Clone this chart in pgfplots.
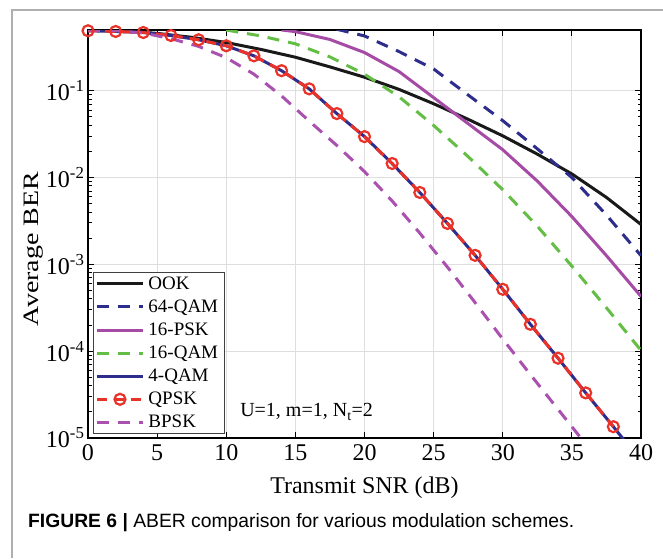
\documentclass[border=0pt]{standalone}
\usepackage{fontspec}
\setmainfont{Liberation Serif}
\newfontfamily\ylabfont{Liberation Serif}[FakeStretch=1.27]
\newfontfamily\capfont{Liberation Sans}
\usepackage{pgfplots}
\pgfplotsset{compat=1.18}

\definecolor{ookc}{RGB}{25,25,25}
\definecolor{navyq}{RGB}{45,45,140}
\definecolor{pskc}{RGB}{165,75,165}
\definecolor{qamg}{RGB}{100,190,70}
\definecolor{qpskred}{RGB}{235,50,40}
\definecolor{bpskc}{RGB}{170,80,175}
\definecolor{gridc}{RGB}{222,222,222}
\definecolor{framec}{RGB}{175,175,175}

\begin{document}
\begin{tikzpicture}[x=1pt,y=1pt]
\useasboundingbox (0,0) rectangle (663,558);
\draw[framec, line width=2pt] (12,0) -- (12,548) -- (663,548);
\begin{axis}[
  at={(88pt,120pt)}, anchor=south west,
  scale only axis, width=553pt, height=408pt,
  ymode=log, xmin=0, xmax=40, ymin=1e-5, ymax=0.5,
  xtick={0,5,...,40},
  ytick={1e-5,1e-4,1e-3,1e-2,1e-1},
  yticklabels={10\textsuperscript{-5},10\textsuperscript{-4},10\textsuperscript{-3},10\textsuperscript{-2},10\textsuperscript{-1}},
  /pgf/number format/assume math mode=true,
  tick label style={font=\fontsize{24}{26}\selectfont, black},
  xticklabel style={yshift=-3pt},
  grid=major, major grid style={gridc, line width=1pt},
  tick align=inside, tickpos=both,
  major tick length=6pt, minor tick length=3.5pt,
  every tick/.style={black, line width=0.9pt},
  axis line style={black, line width=1.2pt},
  xlabel={Transmit SNR (dB)},
  ylabel={Average BER},
  xlabel style={font=\fontsize{24}{26}\selectfont, at={(axis description cs:0.5,-0.1225)}, anchor=center},
  ylabel style={font=\ylabfont\fontsize{22}{24}\selectfont, at={(axis description cs:-0.0975,0.463)}, anchor=center},
  legend style={at={(rel axis cs:0.009,0.01)}, anchor=south west,
    font=\fontsize{19}{21}\selectfont, draw=black!75, line width=1pt,
    fill=white, inner sep=2pt, row sep=5pt,
    nodes={inner xsep=4pt}},
  legend cell align=left,
  legend image code/.code={\draw[mark repeat=2,mark phase=2] plot coordinates {(0pt,0pt) (23pt,0pt) (46pt,0pt)};},
]
% OOK
\addplot[ookc, line width=3pt] coordinates {
 (0,0.50) (2.5,0.49) (5,0.457) (7.5,0.412) (10,0.359) (12.5,0.299) (15,0.243)
 (17.5,0.188) (20,0.143) (22.5,0.1035) (25,0.0708) (27.5,0.0468) (30,0.0302)
 (32.5,0.0186) (35,0.011) (37.5,5.9e-3) (40,2.88e-3)};
\addlegendentry{OOK}
% 64-QAM
\addplot[navyq, line width=3pt, dash pattern=on 12pt off 9pt] coordinates {
 (18,0.51) (20,0.427) (22.5,0.282) (25,0.178) (27.5,0.0891) (30,0.0452)
 (32.5,0.0214) (35,0.01) (37.5,3.7e-3) (40,1.26e-3)};
\addlegendentry{64-QAM}
% 16-PSK
\addplot[pskc, line width=3pt] coordinates {
 (14,0.50) (15,0.479) (17.5,0.389) (20,0.275) (22.5,0.166) (25,0.0832)
 (27.5,0.0417) (30,0.0209) (32.5,9.1e-3) (35,3.55e-3) (37.5,1.26e-3) (40,4.27e-4)};
\addlegendentry{16-PSK}
% 16-QAM
\addplot[qamg, line width=3pt, dash pattern=on 12pt off 9pt] coordinates {
 (10,0.50) (12.5,0.427) (15,0.347) (17.5,0.245) (20,0.155) (22.5,0.0851)
 (25,0.0398) (27.5,0.0174) (30,7.24e-3) (32.5,2.75e-3) (35,9.55e-4)
 (37.5,3.16e-4) (40,1.02e-4)};
\addlegendentry{16-QAM}
% 4-QAM
\addplot[navyq, line width=3pt] coordinates {
 (0,0.490) (2,0.481) (4,0.468) (6,0.432) (8,0.386) (10,0.329) (12,0.252)
 (14,0.170) (16,0.105) (18,0.0545) (20,0.0296) (22,0.0145) (24,6.73e-3)
 (26,2.96e-3) (28,1.27e-3) (30,5.16e-4) (32,2.04e-4) (34,8.3e-5)
 (36,3.31e-5) (38,1.35e-5) (40,5.4e-6)};
\addlegendentry{4-QAM}
% QPSK
\addplot[qpskred, line width=3pt, dash pattern=on 10pt off 7pt,
  mark=o, mark size=5.5pt, mark options={solid, line width=2.2pt, fill=none}] coordinates {
 (0,0.490) (2,0.481) (4,0.468) (6,0.432) (8,0.386) (10,0.329) (12,0.252)
 (14,0.170) (16,0.105) (18,0.0545) (20,0.0296) (22,0.0145) (24,6.73e-3)
 (26,2.96e-3) (28,1.27e-3) (30,5.16e-4) (32,2.04e-4) (34,8.3e-5)
 (36,3.31e-5) (38,1.35e-5)};
\addlegendentry{QPSK}
% BPSK
\addplot[bpskc, line width=3pt, dash pattern=on 12pt off 9pt] coordinates {
 (0,0.50) (2,0.49) (4,0.462) (6,0.398) (8,0.324) (10,0.240) (12,0.155)
 (14,0.0871) (16,0.0447) (18,0.0234) (20,0.0117) (22,5.37e-3) (24,2.29e-3)
 (26,9.3e-4) (28,3.63e-4) (30,1.38e-4) (32,5.37e-5) (34,2.14e-5) (36,8.5e-6)};
\addlegendentry{BPSK}
\node[anchor=base west, font=\fontsize{20}{22}\selectfont, inner sep=0pt]
  at (rel axis cs:0.275,0.0515) {U=1, m=1, N\textsubscript{t}=2};
\end{axis}
\node[anchor=base west, inner sep=0pt, font=\capfont\fontsize{19.3}{21}\selectfont]
  at (28,31) {\textbf{FIGURE 6 |} ABER comparison for various modulation schemes.};
\end{tikzpicture}
\end{document}
